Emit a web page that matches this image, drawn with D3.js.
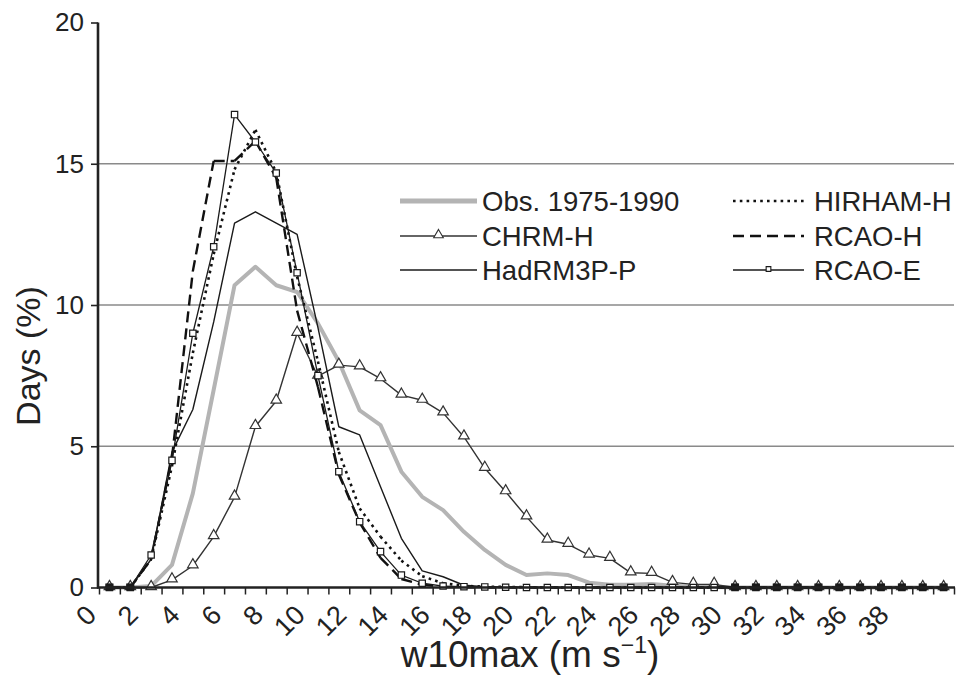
<!DOCTYPE html>
<html><head><meta charset="utf-8">
<script src="https://cdn.jsdelivr.net/npm/d3@7"></script>
<style>
body{margin:0;background:#fff}
svg{display:block}
text{font-family:"Liberation Sans",Arial,Helvetica,sans-serif;fill:#222}
</style>
</head><body>
<svg id="chart" width="959" height="698"></svg>
<script>
// ---- data ----
const binCenters = [0.5,1.5,2.5,3.5,4.5,5.5,6.5,7.5,8.5,9.5,10.5,11.5,12.5,13.5,14.5,15.5,16.5,17.5,18.5,19.5,20.5,21.5,22.5,23.5,24.5,25.5,26.5,27.5,28.5,29.5,30.5,31.5,32.5,33.5,34.5,35.5,36.5,37.5,38.5,39.5,40.5];
const xTickLabels = [0,2,4,6,8,10,12,14,16,18,20,22,24,26,28,30,32,34,36,38];
const yTickValues = [0,5,10,15,20];
const gridValues = [5,10,15];
const seriesNames = ["Obs. 1975-1990","CHRM-H","HadRM3P-P","HIRHAM-H","RCAO-H","RCAO-E"];
const obs    = [0,0,0.05,0.8,3.33,7.0,10.7,11.35,10.7,10.46,9.35,8.0,6.27,5.75,4.1,3.21,2.74,1.97,1.33,0.8,0.44,0.5,0.44,0.17,0.1,0.1,0.12,0.06,0.03,0.02,0,0,0,0,0,0,0,0,0,0,0];
const chrmH  = [0,0,0,0.27,0.77,1.8,3.2,5.7,6.6,9.0,7.48,7.87,7.81,7.39,6.81,6.63,6.18,5.33,4.22,3.39,2.5,1.68,1.53,1.15,1.03,0.52,0.5,0.18,0.11,0.11,0,0,0,0,0,0,0,0,0,0,0];
const hadRM3P= [0,0,1.0,4.8,6.3,9.4,12.9,13.3,12.9,12.5,9.2,5.69,5.4,3.57,1.74,0.59,0.38,0.08,0.03,0.02,0.01,0,0,0,0,0,0,0,0,0,0,0,0,0,0,0,0,0,0,0,0];
const hirhamH= [0,0,1.0,4.3,8.3,11.8,14.8,16.2,14.7,11.0,8.0,4.8,2.8,1.8,0.95,0.4,0.15,0.06,0.03,0.02,0.01,0,0,0,0,0,0,0,0,0,0,0,0,0,0,0,0,0,0,0,0];
const rcaoH  = [0,0,1.0,4.6,11.2,15.1,15.1,15.8,14.5,9.8,7.1,4.0,2.3,1.05,0.3,0.1,0.02,0.01,0,0,0,0,0,0,0,0,0,0,0,0,0,0,0,0,0,0,0,0,0,0,0];
const rcaoE  = [0,0,1.15,4.5,9.0,12.06,16.74,15.77,14.67,11.14,7.5,4.1,2.33,1.27,0.44,0.15,0.05,0.03,0.02,0.01,0,0,0,0,0,0,0,0,0,0,0,0,0,0,0,0,0,0,0,0,0];

// ---- layout ----
const svg = d3.select("#chart");
const x = d3.scaleLinear().domain([0,41]).range([99,954]);
const y = d3.scaleLinear().domain([0,20]).range([587.5,22.5]);

// gridlines
svg.append("g").selectAll("line").data(gridValues).join("line")
  .attr("x1", x(0)).attr("x2", x(41))
  .attr("y1", d=>y(d)).attr("y2", d=>y(d))
  .attr("stroke","#8a8a8a").attr("stroke-width",1.4);

const styles = [
  {data: obs,     color:"#b4b4b4", width:4,   dash:null,   marker:null},
  {data: chrmH,   color:"#333",    width:1.4, dash:null,   marker:"tri"},
  {data: hadRM3P, color:"#1a1a1a", width:1.4, dash:null,   marker:null},
  {data: hirhamH, color:"#111",    width:2.6, dash:"2.6,4.2", marker:null, seg:true},
  {data: rcaoH,   color:"#111",    width:2.4, dash:"11,6",  marker:null, seg:true},
  {data: rcaoE,   color:"#1a1a1a", width:1.3, dash:null,   marker:"sq"}
];

const line = d3.line().x(d=>x(d[0])).y(d=>y(d[1]));
const plot = svg.append("g");
styles.forEach(s=>{
  const pts = binCenters.map((c,i)=>[c, s.data[i]]);
  if (s.seg) {
    // dash pattern restarts on every segment
    const segs = d3.pairs(pts);
    plot.append("g").selectAll("path").data(segs).join("path")
      .attr("d", d=>line(d)).attr("fill","none")
      .attr("stroke", s.color).attr("stroke-width", s.width)
      .attr("stroke-dasharray", s.dash);
  } else {
    plot.append("path").attr("d", line(pts)).attr("fill","none")
      .attr("stroke", s.color).attr("stroke-width", s.width)
      .attr("stroke-linejoin","round");
  }
  if (s.marker) {
    const sym = s.marker==="tri" ? d3.symbol(d3.symbolTriangle, 48) : d3.symbol(d3.symbolSquare, 40);
    plot.append("g").selectAll("path").data(pts).join("path")
      .attr("transform", d=>`translate(${x(d[0])},${y(d[1]) + (s.marker==="tri"?-1:0)})`)
      .attr("d", sym).attr("fill","#fff").attr("stroke", s.color).attr("stroke-width",1.2);
  }
});

// where every series sits on zero the overlapping markers and dashes merge into a dark blob
const allZero = binCenters.filter((c,i)=>styles.every(s=>s.data[i]===0));
plot.append("g").selectAll("rect").data(allZero).join("rect")
  .attr("x", d=>x(d)-4).attr("y", y(0)-4).attr("width",8).attr("height",7)
  .attr("fill","#1a1a1a");

// y axis
const yAxis = svg.append("g").attr("transform",`translate(${x(0)-1},0)`)
  .call(d3.axisLeft(y).tickValues(yTickValues).tickSize(7).tickPadding(7));
yAxis.select(".domain").attr("stroke","#222").attr("stroke-width",2.6).attr("d",`M0,${y(20)}V${y(0)+1}`);
yAxis.selectAll(".tick line").attr("stroke","#222").attr("stroke-width",1.6);
yAxis.selectAll(".tick text").attr("font-size",26).attr("fill","#222")
  .attr("font-family",'"Liberation Sans",Arial,sans-serif');

// x axis
const xAxis = svg.append("g").attr("transform",`translate(0,${y(0)})`)
  .call(d3.axisBottom(x).tickValues(d3.range(0,42)).tickSize(7).tickFormat(""));
xAxis.select(".domain").attr("stroke","#222").attr("stroke-width",2.6).attr("d",`M${x(0)-2},0H${x(41)+1}`);
xAxis.selectAll(".tick line").attr("stroke","#222").attr("stroke-width",1.5);

svg.append("g").selectAll("text").data(xTickLabels).join("text")
  .attr("transform", d=>`translate(${x(d)-1},${y(0)+29}) rotate(-45)`)
  .attr("text-anchor","end").attr("font-size",27).text(d=>d);

// axis titles
svg.append("text").attr("transform","translate(40,356) rotate(-90)")
  .attr("text-anchor","middle").attr("font-size",34).text("Days (%)");
const xt = svg.append("text").attr("x",530).attr("y",667).attr("text-anchor","middle").attr("font-size",37);
xt.append("tspan").text("w10max (m s");
xt.append("tspan").attr("font-size",23).attr("dy",-14).text("−1");
xt.append("tspan").attr("dy",14).text(")");

// legend
const legRows = [201,236,270];
const legend = svg.append("g");
styles.forEach((s,i)=>{
  const col = i<3 ? 0 : 1;
  const row = i%3;
  const x0 = col===0 ? 400 : 733, x1 = col===0 ? 477 : 804, tx = col===0 ? 482 : 814;
  const yy = legRows[row];
  legend.append("line").attr("x1",x0).attr("x2",x1).attr("y1",yy).attr("y2",yy)
    .attr("stroke",s.color).attr("stroke-width", s.width===4?5:s.width)
    .attr("stroke-dasharray", s.dash);
  if (s.marker) {
    const sym = s.marker==="tri" ? d3.symbol(d3.symbolTriangle, 40) : d3.symbol(d3.symbolSquare, 22);
    legend.append("path").attr("transform",`translate(${(x0+x1)/2},${yy-1})`).attr("d",sym)
      .attr("fill","#fff").attr("stroke",s.color).attr("stroke-width",1.1);
  }
  legend.append("text").attr("x",tx).attr("y",yy+9.5).attr("font-size",27.5).text(seriesNames[i]);
});
</script>
</body></html>
